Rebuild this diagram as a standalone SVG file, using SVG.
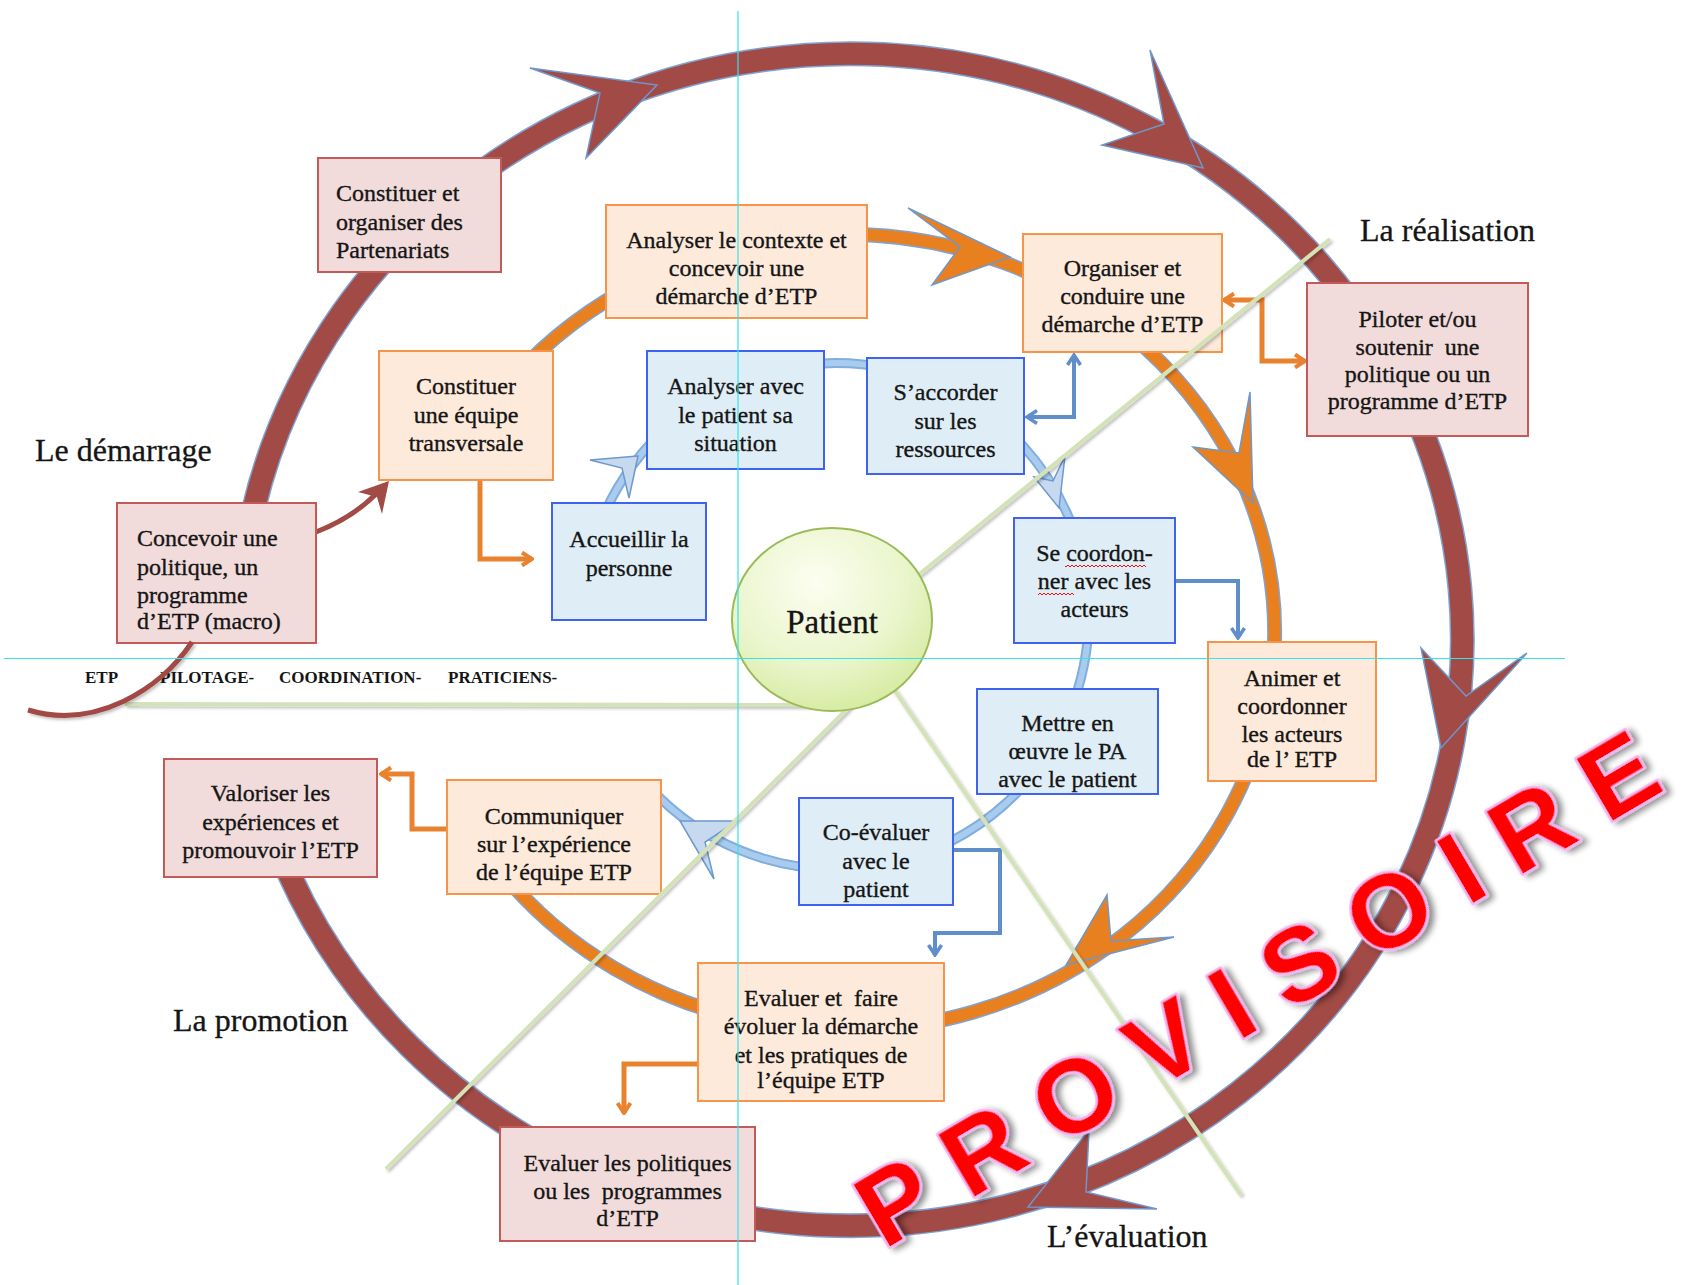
<svg xmlns="http://www.w3.org/2000/svg" width="1689" height="1285" viewBox="0 0 1689 1285">
<defs>
<style>
text{font-family:"Liberation Serif","Times New Roman",serif;fill:#151515}
.t{font-size:24px;stroke:#151515;stroke-width:0.35px}
.c{text-anchor:middle}
.lbl{font-size:32px;stroke:#151515;stroke-width:0.3px}
.etp{font-size:17px;font-weight:bold}
.pk{fill:#F2DCDB;stroke:#C25B58;stroke-width:2}
.or{fill:#FDEADB;stroke:#F7944A;stroke-width:2}
.bl{fill:#DFEEF6;stroke:#3E63F0;stroke-width:2}
.ah-r{fill:#A24A45;stroke:#6E97CC;stroke-width:1.5}
.ah-o{fill:#E8801F;stroke:#6E97CC;stroke-width:1.5}
.ah-b{fill:#C7D9EE;stroke:#6C99CF;stroke-width:1.5}
.eo{fill:none;stroke:#E9822F;stroke-width:5}
.eb{fill:none;stroke:#5F8FCB;stroke-width:4}
.gl{stroke:#D4E2B8;stroke-width:4;fill:none}
.cy{stroke:#35E3EA;stroke-width:1.2}
text.wm{font-family:"Liberation Sans",Arial,sans-serif;font-weight:bold;font-size:104px;fill:#FF0000;stroke:#F3B6F3;stroke-width:5px;paint-order:stroke;stroke-linejoin:round}
</style>
<marker id="mo" viewBox="0 0 14 16" refX="12" refY="8" markerWidth="14" markerHeight="16" markerUnits="userSpaceOnUse" orient="auto-start-reverse"><path d="M2,1.5 L12,8 L2,14.5" fill="none" stroke="#E9822F" stroke-width="4"/></marker>
<marker id="mb" viewBox="0 0 14 16" refX="12" refY="8" markerWidth="14" markerHeight="16" markerUnits="userSpaceOnUse" orient="auto-start-reverse"><path d="M2,1.5 L12,8 L2,14.5" fill="none" stroke="#5F8FCB" stroke-width="3.5"/></marker>
<radialGradient id="pg" cx="0.42" cy="0.3" r="0.75"><stop offset="0" stop-color="#FCFEF0"/><stop offset="0.6" stop-color="#EAF5CC"/><stop offset="1" stop-color="#D3EA9C"/></radialGradient>
<filter id="sh" x="-10%" y="-10%" width="120%" height="120%"><feDropShadow dx="2" dy="2" stdDeviation="1.5" flood-color="#000" flood-opacity="0.25"/></filter>
<filter id="ws" x="-10%" y="-20%" width="120%" height="140%"><feDropShadow dx="4" dy="4" stdDeviation="3" flood-color="#000" flood-opacity="0.45"/></filter>
<pattern id="squig" width="4" height="4" patternUnits="userSpaceOnUse"><path d="M0,1 L2,3 L4,1" fill="none" stroke="#E01010" stroke-width="1"/></pattern>
</defs>

<g id="rings">
<path d="M 244 560 A 612 586 0 1 1 268 820" fill="none" stroke="#7FA3D3" stroke-width="25"/>
<path d="M 244 560 A 612 586 0 1 1 268 820" fill="none" stroke="#A24A45" stroke-width="22"/>
<path d="M 512 380 A 430 398 0 1 1 492 860" fill="none" stroke="#7FA3D3" stroke-width="15"/>
<path d="M 512 380 A 430 398 0 1 1 492 860" fill="none" stroke="#E8801F" stroke-width="12"/>
<path d="M 589 560 A 253 253 0 1 1 652 790" fill="none" stroke="#7FAEDF" stroke-width="10"/>
<path d="M 589 560 A 253 253 0 1 1 652 790" fill="none" stroke="#A9CCEE" stroke-width="6"/>
</g>

<g id="connectors">
<polygon class="ah-r" points="530,68 657,85 586,158 600,93"/>
<polygon class="ah-r" points="1150,50 1164,124 1102,145 1203,168"/>
<polygon class="ah-r" points="1421,648 1466,696 1527,653 1441,748"/>
<polygon class="ah-r" points="1089,1130 1086,1192 1157,1209 1028,1207"/>
<polygon class="ah-o" points="908,208 1010,257 932,285 960,247"/>
<polygon class="ah-o" points="1250,392 1239,453 1193,447 1253,503"/>
<polygon class="ah-o" points="1107,895 1111,941 1174,937 1066,965"/>
<polygon class="ah-b" points="638,456 590,460 622,468 629,498"/>
<polygon class="ah-b" points="1065,456 1059,508 1034,477 1053,481"/>
<polygon class="ah-b" points="680,821 737,821 705,842 714,879"/>
<path d="M 316 532 Q 352 518 376 494" fill="none" stroke="#A24A45" stroke-width="5"/>
<polygon fill="#A24A45" points="389,481 358,492 377,497 382,514"/>
<path class="eo" d="M 480 480 V 559 H 532" marker-end="url(#mo)"/>
<path class="eo" d="M 1224 300 H 1262 V 361 H 1305" marker-start="url(#mo)" marker-end="url(#mo)"/>
<path class="eo" d="M 447 829 H 412 V 774 H 381" marker-end="url(#mo)"/>
<path class="eo" d="M 699 1064 H 624 V 1113" marker-end="url(#mo)"/>
<path class="eb" d="M 1027 417 H 1074 V 355" marker-start="url(#mb)" marker-end="url(#mb)"/>
<path class="eb" d="M 1175 581 H 1238 V 638" marker-end="url(#mb)"/>
<path class="eb" d="M 953 850 H 1000 V 933 H 935 V 955" marker-end="url(#mb)"/>
</g>

<g id="n-partenariats"><rect class="pk" x="318" y="158" width="183" height="114"/><text class="t"><tspan x="336" y="201">Constituer et</tspan><tspan x="336" y="230">organiser des</tspan><tspan x="336" y="258">Partenariats</tspan></text></g>
<g id="n-analyser-contexte"><rect class="or" x="606" y="205" width="261" height="113"/><text class="t c"><tspan x="736.5" y="248">Analyser le contexte et</tspan><tspan x="736.5" y="276">concevoir une</tspan><tspan x="736.5" y="304">démarche d’ETP</tspan></text></g>
<g id="n-organiser"><rect class="or" x="1023" y="234" width="199" height="118"/><text class="t c"><tspan x="1122.5" y="276">Organiser et</tspan><tspan x="1122.5" y="304">conduire une</tspan><tspan x="1122.5" y="332">démarche d’ETP</tspan></text></g>
<g id="n-piloter"><rect class="pk" x="1307" y="283" width="221" height="153"/><text class="t c"><tspan x="1417.5" y="327">Piloter et/ou</tspan><tspan x="1417.5" y="355">soutenir&#160; une</tspan><tspan x="1417.5" y="382">politique ou un</tspan><tspan x="1417.5" y="409">programme d’ETP</tspan></text></g>
<g id="n-constituer-equipe"><rect class="or" x="379" y="351" width="174" height="129"/><text class="t c"><tspan x="466" y="394">Constituer</tspan><tspan x="466" y="423">une équipe</tspan><tspan x="466" y="451">transversale</tspan></text></g>
<g id="n-analyser-patient"><rect class="bl" x="647" y="351" width="177" height="118"/><text class="t c"><tspan x="735.5" y="394">Analyser avec</tspan><tspan x="735.5" y="423">le patient sa</tspan><tspan x="735.5" y="451">situation</tspan></text></g>
<g id="n-accorder"><rect class="bl" x="867" y="358" width="157" height="116"/><text class="t c"><tspan x="945.5" y="400">S’accorder</tspan><tspan x="945.5" y="429">sur les</tspan><tspan x="945.5" y="457">ressources</tspan></text></g>
<g id="n-accueillir"><rect class="bl" x="552" y="503" width="154" height="117"/><text class="t c"><tspan x="629" y="547">Accueillir la</tspan><tspan x="629" y="576">personne</tspan></text></g>
<g id="n-concevoir"><rect class="pk" x="117" y="503" width="199" height="140"/><text class="t"><tspan x="137" y="546">Concevoir une</tspan><tspan x="137" y="575">politique, un</tspan><tspan x="137" y="603">programme</tspan><tspan x="137" y="629">d’ETP (macro)</tspan></text></g>
<g id="n-coordonner"><rect class="bl" x="1014" y="518" width="161" height="125"/><text class="t c"><tspan x="1094.5" y="561">Se coordon-</tspan><tspan x="1094.5" y="589">ner avec les</tspan><tspan x="1094.5" y="617">acteurs</tspan></text><rect x="1065" y="563" width="81" height="4" fill="url(#squig)"/><rect x="1038" y="592" width="36" height="4" fill="url(#squig)"/></g>
<g id="n-animer"><rect class="or" x="1208" y="642" width="168" height="139"/><text class="t c"><tspan x="1292" y="686">Animer et</tspan><tspan x="1292" y="714">coordonner</tspan><tspan x="1292" y="742">les acteurs</tspan><tspan x="1292" y="767">de l’ ETP</tspan></text></g>
<g id="n-mettre"><rect class="bl" x="977" y="689" width="181" height="105"/><text class="t c"><tspan x="1067.5" y="731">Mettre en</tspan><tspan x="1067.5" y="759">œuvre le PA</tspan><tspan x="1067.5" y="787">avec le patient</tspan></text></g>
<g id="n-coevaluer"><rect class="bl" x="799" y="798" width="154" height="107"/><text class="t c"><tspan x="876" y="840">Co-évaluer</tspan><tspan x="876" y="869">avec le</tspan><tspan x="876" y="897">patient</tspan></text></g>
<g id="n-communiquer"><rect class="or" x="447" y="780" width="214" height="114"/><text class="t c"><tspan x="554" y="824">Communiquer</tspan><tspan x="554" y="852">sur l’expérience</tspan><tspan x="554" y="880">de l’équipe ETP</tspan></text></g>
<g id="n-valoriser"><rect class="pk" x="164" y="759" width="213" height="118"/><text class="t c"><tspan x="270.5" y="801">Valoriser les</tspan><tspan x="270.5" y="830">expériences et</tspan><tspan x="270.5" y="858">promouvoir l’ETP</tspan></text></g>
<g id="n-evaluer-demarche"><rect class="or" x="698" y="963" width="246" height="138"/><text class="t c"><tspan x="821" y="1006">Evaluer et&#160; faire</tspan><tspan x="821" y="1034">évoluer la démarche</tspan><tspan x="821" y="1063">et les pratiques de</tspan><tspan x="821" y="1088">l’équipe ETP</tspan></text></g>
<g id="n-evaluer-politiques"><rect class="pk" x="500" y="1127" width="255" height="114"/><text class="t c"><tspan x="627.5" y="1171">Evaluer les politiques</tspan><tspan x="627.5" y="1199">ou les&#160; programmes</tspan><tspan x="627.5" y="1226">d’ETP</tspan></text></g>

<g id="axes" filter="url(#sh)">
<line class="gl" x1="1330" y1="239" x2="900" y2="590"/>
<line class="gl" x1="125" y1="704" x2="832" y2="705"/>
<line class="gl" x1="850" y1="706" x2="386" y2="1169"/>
<line class="gl" x1="880" y1="669" x2="1241" y2="1195"/>
</g>

<g id="n-patient"><ellipse cx="832" cy="619.5" rx="100" ry="91.5" fill="url(#pg)" stroke="#9BBB59" stroke-width="2"/><text class="c" x="832" y="633" font-size="33" stroke="#151515" stroke-width="0.3">Patient</text></g>

<g id="labels">
<text class="lbl" x="1360" y="241">La réalisation</text>
<text class="lbl" x="35" y="461">Le démarrage</text>
<text class="lbl" x="173" y="1031">La promotion</text>
<text class="lbl" x="1047" y="1247">L’évaluation</text>
<text class="etp" x="85" y="683">ETP</text>
<text class="etp" x="160" y="683">PILOTAGE-</text>
<text class="etp" x="279" y="683">COORDINATION-</text>
<text class="etp" x="448" y="683">PRATICIENS-</text>
</g>

<path id="tail" d="M 192 642 C 160 690, 95 730, 28 710" fill="none" stroke="#A24A45" stroke-width="5" filter="url(#sh)"/>

<g id="guides">
<line class="cy" x1="738" y1="11" x2="738" y2="1285"/>
<line class="cy" x1="4" y1="658.5" x2="1565" y2="658.5"/>
</g>

<g id="watermark" transform="translate(884,1250) rotate(-30.5)" filter="url(#ws)">
<text class="wm" x="0" y="0" dx="0 29 29 29 29 29 29 29 29 29">PROVISOIRE</text>
</g>
</svg>
